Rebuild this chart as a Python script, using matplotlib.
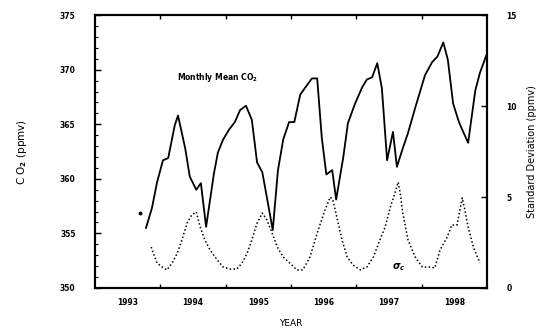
import matplotlib
matplotlib.use("Agg")
import matplotlib.pyplot as plt

# monthly mean CO2 (left axis)
co2_year = [1993.78, 1993.87, 1993.95, 1994.04, 1994.12, 1994.22, 1994.27, 1994.38,
            1994.45, 1994.55, 1994.62, 1994.70, 1994.82, 1994.88, 1994.96, 1995.05,
            1995.14, 1995.22, 1995.31, 1995.40, 1995.48, 1995.56, 1995.63, 1995.72,
            1995.80, 1995.88, 1995.97, 1996.05, 1996.14, 1996.21, 1996.32, 1996.40,
            1996.47, 1996.54, 1996.63, 1996.69, 1996.80, 1996.87, 1996.98, 1997.09,
            1997.16, 1997.24, 1997.32, 1997.39, 1997.47, 1997.56, 1997.62, 1997.71,
            1997.79, 1997.90, 1997.97, 1998.05, 1998.16, 1998.24, 1998.33, 1998.40,
            1998.48, 1998.57, 1998.62, 1998.71, 1998.82, 1998.89, 1999.00]
co2_ppm = [355.5, 357.3, 359.7, 361.7, 361.9, 364.9, 365.8, 362.8,
           360.2, 359.0, 359.6, 355.6, 360.5, 362.4, 363.6, 364.5,
           365.2, 366.3, 366.7, 365.4, 361.5, 360.6, 358.3, 355.3,
           360.8, 363.6, 365.2, 365.2, 367.7, 368.3, 369.2, 369.2,
           363.8, 360.4, 360.8, 358.1, 362.0, 365.1, 366.9, 368.4,
           369.1, 369.3, 370.6, 368.3, 361.7, 364.3, 361.1, 362.8,
           364.2, 366.5, 367.9, 369.5, 370.7, 371.2, 372.5, 370.9,
           366.9, 365.2, 364.5, 363.3, 368.1, 369.7, 371.5]
# lone first point, not joined to the line
first_year = [1993.69]
first_ppm = [356.9]

# standard deviation (right axis)
sd_year = [1993.86, 1993.89, 1993.95, 1994.03, 1994.10, 1994.18, 1994.26, 1994.33,
           1994.41, 1994.48, 1994.55, 1994.61, 1994.68, 1994.76, 1994.87, 1994.96,
           1995.07, 1995.17, 1995.25, 1995.33, 1995.40, 1995.48, 1995.56, 1995.63,
           1995.71, 1995.79, 1995.88, 1995.98, 1996.09, 1996.18, 1996.29, 1996.40,
           1996.52, 1996.60, 1996.64, 1996.70, 1996.78, 1996.86, 1996.95, 1997.06,
           1997.16, 1997.26, 1997.36, 1997.44, 1997.52, 1997.59, 1997.64, 1997.67,
           1997.71, 1997.79, 1997.90, 1998.01, 1998.13, 1998.20, 1998.28, 1998.39,
           1998.46, 1998.54, 1998.62, 1998.66, 1998.71, 1998.79, 1998.89]
sd_ppm = [2.25, 1.92, 1.37, 1.15, 0.99, 1.37, 1.92, 2.64,
          3.57, 4.01, 4.18, 3.35, 2.64, 2.09, 1.54, 1.15,
          1.04, 1.04, 1.37, 1.92, 2.64, 3.57, 4.12, 3.74,
          3.02, 2.25, 1.70, 1.37, 0.99, 0.99, 1.70, 3.02,
          4.29, 5.00, 4.84, 3.90, 2.64, 1.70, 1.26, 0.99,
          1.15, 1.70, 2.64, 3.35, 4.45, 5.22, 5.82, 5.22,
          4.12, 2.64, 1.70, 1.15, 1.15, 1.10, 2.09, 2.80,
          3.46, 3.46, 4.95, 4.29, 3.35, 2.25, 1.37]

year_labels = ["1993", "1994", "1995", "1996", "1997", "1998"]
left_ticks = [350, 355, 360, 365, 370, 375]
right_ticks = [0, 5, 10, 15]


def main():
    plt.rcParams['font.family'] = 'DejaVu Sans'
    plt.rcParams['font.weight'] = 'bold'
    fig = plt.figure(figsize=(5.43, 3.36), dpi=100)
    ax = fig.add_axes([0.175, 0.143, 0.722, 0.812])
    ax2 = ax.twinx()

    ax.plot(co2_year, co2_ppm, color='black', lw=1.3)
    ax.plot(first_year, first_ppm, 'o', color='black', ms=1.8)
    ax2.plot(sd_year, sd_ppm, color='black', lw=1.1, ls=(0, (1, 1.5)))

    ax.set_xlim(1993, 1999)
    ax.set_ylim(350, 375)
    ax2.set_ylim(0, 15)

    # year ticks at boundaries, labels centred in each year
    bounds = list(range(1994, 1999))
    ax.set_xticks(bounds)
    ax.set_xticklabels([])
    ax.set_xticks([1993.5 + i for i in range(len(year_labels))], minor=True)
    ax.set_xticklabels(year_labels, minor=True, fontsize=5.5)
    ax.tick_params(axis='x', which='major', direction='in', length=3, width=1,
                   top=True)
    ax.tick_params(axis='x', which='minor', length=0, pad=7)

    ax.set_yticks(left_ticks)
    ax.set_yticklabels([str(v) for v in left_ticks], fontsize=5.5)
    ax.set_yticks(range(350, 376), minor=True)
    ax.tick_params(axis='y', which='major', direction='in', length=4, width=1, pad=14)
    ax.tick_params(axis='y', which='minor', direction='in', length=2, width=0.8)

    ax2.set_yticks(right_ticks)
    ax2.set_yticklabels([str(v) for v in right_ticks], fontsize=5.5)
    ax2.tick_params(axis='y', direction='in', length=4, width=1, pad=14)

    for a in (ax, ax2):
        for s in a.spines.values():
            s.set_linewidth(1.5)

    ax.set_xlabel("YEAR", fontsize=6.5, labelpad=9)
    ax.set_ylabel("C O$_2$ (ppmv)", fontsize=7.5, labelpad=22)
    ax2.set_ylabel("Standard Deviation (ppmv)", fontsize=7, rotation=90, labelpad=7)

    ax.text(1994.26, 369.3, "Monthly Mean CO$_2$", fontsize=5.5, va='center')
    ax2.text(1997.55, 1.15, r"$\sigma_c$", fontsize=7, va='center')

    plt.savefig('out.png', dpi=100)


if __name__ == "__main__":
    main()
